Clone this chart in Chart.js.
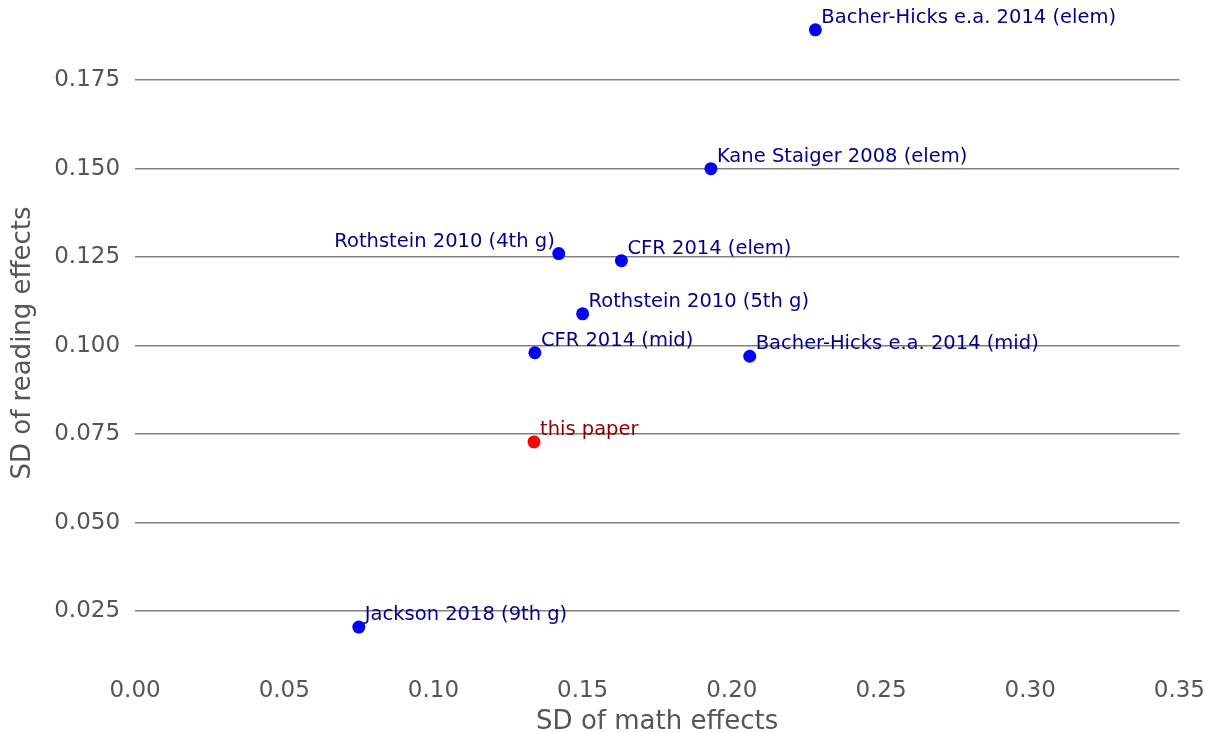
<!DOCTYPE html>
<html>
<head>
<meta charset="utf-8">
<script src="https://cdn.jsdelivr.net/npm/chart.js@4"></script>
<style>
  html, body { margin: 0; padding: 0; background: #fff; }
  #wrap { width: 1225px; height: 733px; }
</style>
</head>
<body>
<div id="wrap"><canvas id="c"></canvas></div>
<script>
// data
const studies = [
  "Bacher-Hicks e.a. 2014 (elem)", "Kane Staiger 2008 (elem)", "Rothstein 2010 (4th g)",
  "CFR 2014 (elem)", "Rothstein 2010 (5th g)", "CFR 2014 (mid)",
  "Bacher-Hicks e.a. 2014 (mid)", "Jackson 2018 (9th g)"
];
const mathSD = [0.228, 0.193, 0.142, 0.163, 0.150, 0.134, 0.206, 0.075];
const readSD = [0.1892, 0.150, 0.126, 0.124, 0.109, 0.098, 0.097, 0.0205];
const paperLabel = "this paper";
const paperMath = [0.1337];
const paperRead = [0.0728];
const yTicks = [0.025, 0.05, 0.075, 0.1, 0.125, 0.15, 0.175];
const yMin = 0.012, yMax = 0.1895;

const FONT = "'DejaVu Sans', sans-serif";

// text labels next to each point
const pointLabels = {
  id: "pointLabels",
  afterDatasetsDraw(chart) {
    const ctx = chart.ctx;
    ctx.save();
    ctx.font = "19.5px " + FONT;
    ctx.textBaseline = "alphabetic";
    chart.data.datasets.forEach((ds, di) => {
      const meta = chart.getDatasetMeta(di);
      meta.data.forEach((pt, i) => {
        const txt = ds.labels[i];
        ctx.fillStyle = ds.labelColor;
        if (txt === "Rothstein 2010 (4th g)") {
          ctx.textAlign = "right";
          ctx.fillText(txt, pt.x - 4, pt.y - 7);
        } else {
          ctx.textAlign = "left";
          ctx.fillText(txt, pt.x + 6, pt.y - 7);
        }
      });
    });
    ctx.restore();
  }
};

const isEdge = v => v === yMin || v === yMax;

new Chart(document.getElementById("c"), {
  type: "scatter",
  data: {
    datasets: [
      {
        data: mathSD.map((x, i) => ({ x: x, y: readSD[i] })),
        labels: studies,
        labelColor: "#00008b",
        backgroundColor: "#0000ff",
        borderWidth: 0,
        pointRadius: 6.5,
        clip: false
      },
      {
        data: paperMath.map((x, i) => ({ x: x, y: paperRead[i] })),
        labels: [paperLabel],
        labelColor: "#8b0000",
        backgroundColor: "#ff0000",
        borderWidth: 0,
        pointRadius: 6.5,
        clip: false
      }
    ]
  },
  options: {
    responsive: true,
    maintainAspectRatio: false,
    animation: false,
    layout: { padding: { top: -21, right: 22, bottom: -5, left: 8 } },
    plugins: { legend: { display: false }, tooltip: { enabled: false } },
    scales: {
      x: {
        min: 0, max: 0.35,
        grid: { display: false, drawTicks: false },
        border: { display: false },
        ticks: {
          stepSize: 0.05, color: "#555", padding: 20,
          font: { family: FONT, size: 23 },
          callback: v => v.toFixed(2)
        },
        title: { display: true, text: "SD of math effects", color: "#555", font: { family: FONT, size: 26 }, padding: { top: -18, bottom: 0 } }
      },
      y: {
        min: yMin, max: yMax,
        afterBuildTicks: axis => {
          axis.ticks = [yMin, ...yTicks, yMax].map(v => ({ value: v }));
        },
        grid: {
          color: c => (c.tick && isEdge(c.tick.value)) ? "rgba(0,0,0,0)" : "#808080",
          lineWidth: 1.6, drawTicks: false
        },
        border: { display: false },
        ticks: {
          color: "#555", padding: 15,
          font: { family: FONT, size: 23 },
          callback: v => isEdge(v) ? "" : v.toFixed(3)
        },
        title: { display: true, text: "SD of reading effects", color: "#555", font: { family: FONT, size: 26 }, padding: 0 }
      }
    }
  },
  plugins: [pointLabels]
});
</script>
</body>
</html>
